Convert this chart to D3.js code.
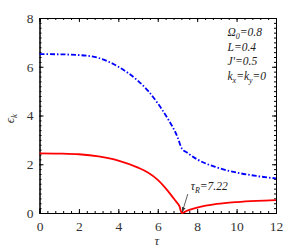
<!DOCTYPE html>
<html>
<head>
<meta charset="utf-8">
<script src="https://cdn.jsdelivr.net/npm/d3@7"></script>
<style>
  body { margin: 0; background: #fff; }
</style>
</head>
<body>
<div id="chart"></div>
<script>
// data
var tauBlue = [0, 1, 2, 3, 4, 5, 5.5, 6, 6.5, 7, 7.22, 7.5, 8, 9, 10, 11, 12];
var epsBlue = [6.52, 6.51, 6.48, 6.36, 6.0, 5.42, 5.02, 4.5, 3.88, 3.12, 2.65, 2.47, 2.2, 1.87, 1.66, 1.52, 1.42];

var tauRed = [0, 1, 2, 3, 4, 5, 5.5, 6, 6.5, 6.9, 7.1, 7.22, 7.5, 8, 9, 10, 11, 12];
var epsRed = [2.45, 2.44, 2.41, 2.32, 2.15, 1.86, 1.66, 1.36, 0.92, 0.5, 0.28, 0, 0.1, 0.22, 0.37, 0.45, 0.5, 0.53];

var xTicks = [0, 2, 4, 6, 8, 10, 12];
var yTicks = [0, 2, 4, 6, 8];
var params = ["Ω|0|=0.8", "L=0.4", "J'=0.5", "k|x|=k|y|=0"];

var serif = "'Liberation Serif', 'Times New Roman', serif";

var margin = {top: 18, right: 29, bottom: 36, left: 39.5},
    width = 305 - margin.left - margin.right,
    height = 249 - margin.top - margin.bottom;

var svg = d3.select("#chart").append("svg")
    .attr("width", 305)
    .attr("height", 249)
  .append("g")
    .attr("transform", "translate(" + margin.left + "," + margin.top + ")");

var x = d3.scaleLinear().domain([0, 12]).range([0, width]);
var y = d3.scaleLinear().domain([0, 8]).range([height, 0]);

// minor ticks on all four sides
var xMinor = d3.range(0, 12.001, 0.4);
var yMinor = d3.range(0, 8.001, 0.2);

svg.append("g")
  .attr("transform", "translate(0," + height + ")")
  .call(d3.axisBottom(x).tickValues(xMinor).tickSize(-2).tickFormat(""));
svg.append("g")
  .call(d3.axisTop(x).tickValues(xMinor).tickSize(-2).tickFormat(""));
svg.append("g")
  .call(d3.axisLeft(y).tickValues(yMinor).tickSize(-2).tickFormat(""));
svg.append("g")
  .attr("transform", "translate(" + width + ",0)")
  .call(d3.axisRight(y).tickValues(yMinor).tickSize(-2).tickFormat(""));

// major ticks
svg.append("g")
  .attr("transform", "translate(0," + height + ")")
  .call(d3.axisBottom(x).tickValues(xTicks).tickSize(-4).tickPadding(8).tickFormat(d3.format("d")));
svg.append("g")
  .call(d3.axisTop(x).tickValues(xTicks).tickSize(-4).tickFormat(""));
svg.append("g")
  .call(d3.axisLeft(y).tickValues(yTicks).tickSize(-4).tickPadding(6).tickFormat(d3.format("d")));
svg.append("g")
  .attr("transform", "translate(" + width + ",0)")
  .call(d3.axisRight(y).tickValues(yTicks).tickSize(-4).tickFormat(""));

svg.selectAll(".domain").attr("stroke", "#000").attr("stroke-width", 1);
svg.selectAll(".tick line").attr("stroke", "#000");
svg.selectAll(".tick text")
  .attr("font-family", serif)
  .attr("font-size", 13.5)
  .attr("fill", "#333");

// curves
var line = d3.line()
    .x(function(d) { return x(d[0]); })
    .y(function(d) { return y(d[1]); })
    .curve(d3.curveMonotoneX);

svg.append("path")
  .datum(d3.zip(tauRed, epsRed))
  .attr("fill", "none")
  .attr("stroke", "#ff0000")
  .attr("stroke-width", 1.8)
  .attr("d", line);

svg.append("path")
  .datum(d3.zip(tauBlue, epsBlue))
  .attr("fill", "none")
  .attr("stroke", "#0000ff")
  .attr("stroke-width", 1.8)
  .attr("stroke-dasharray", "5,2,1.5,2")
  .attr("d", line);

// annotation arrow
svg.append("defs").append("marker")
  .attr("id", "arr")
  .attr("viewBox", "0 0 10 10")
  .attr("refX", 10).attr("refY", 5)
  .attr("markerWidth", 6).attr("markerHeight", 6)
  .attr("orient", "auto")
  .append("path").attr("d", "M0,1 L10,5 L0,9 Z").attr("fill", "#333");

svg.append("line")
  .attr("x1", x(7.22) + 6).attr("y1", y(0) - 19)
  .attr("x2", x(7.22) + 0.5).attr("y2", y(0) - 1)
  .attr("stroke", "#333").attr("stroke-width", 0.8)
  .attr("marker-end", "url(#arr)");

var ann = svg.append("text")
  .attr("x", x(7.22) + 9)
  .attr("y", y(0) - 23)
  .attr("font-family", serif)
  .attr("font-size", 11.5)
  .attr("font-style", "italic")
  .attr("fill", "#222");
ann.append("tspan").text("τ");
ann.append("tspan").attr("dy", 3).attr("font-size", 8).text("R");
ann.append("tspan").attr("dy", -3).text("=7.22");

// parameter labels
params.forEach(function(p, i) {
  var t = svg.append("text")
    .attr("x", 188)
    .attr("y", 18 + i * 14.5)
    .attr("font-family", serif)
    .attr("font-size", 11.5)
    .attr("font-style", "italic")
    .attr("fill", "#222");
  var parts = p.split("|");
  parts.forEach(function(s, j) {
    var ts = t.append("tspan").text(s);
    if (j % 2 == 1) ts.attr("dy", 3).attr("font-size", 8);
    else if (j > 0) ts.attr("dy", -3);
  });
});

// axis labels
svg.append("text")
  .attr("x", x(6) - 1)
  .attr("y", height + 32)
  .attr("text-anchor", "middle")
  .attr("font-family", serif)
  .attr("font-size", 13)
  .attr("font-style", "italic")
  .attr("fill", "#333")
  .text("τ");

var yl = svg.append("text")
  .attr("transform", "translate(" + (-26) + "," + (y(4) + 3) + ") rotate(-90)")
  .attr("text-anchor", "middle")
  .attr("font-family", serif)
  .attr("font-size", 13)
  .attr("font-style", "italic")
  .attr("fill", "#333");
yl.append("tspan").text("ϵ");
yl.append("tspan").attr("dy", 3).attr("font-size", 9).text("k");
</script>
</body>
</html>
